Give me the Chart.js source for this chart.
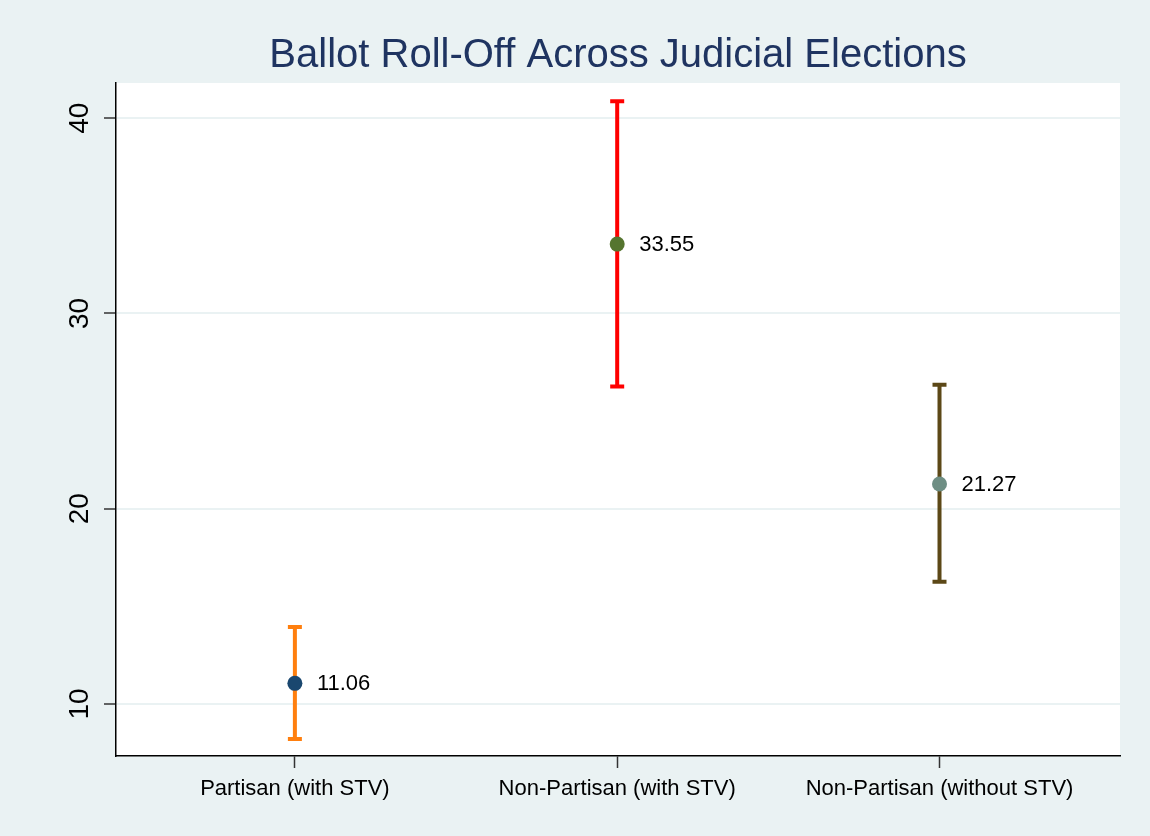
<!DOCTYPE html>
<html>
<head>
<meta charset="utf-8">
<script src="https://cdn.jsdelivr.net/npm/chart.js@4"></script>
<style>
  html, body { margin: 0; padding: 0; background: #eaf2f3; }
  #wrap { width: 1150px; height: 836px; }
</style>
</head>
<body>
<div id="wrap"><canvas id="chart" width="1150" height="836"></canvas></div>
<script>
const categories = ["Partisan (with STV)", "Non-Partisan (with STV)", "Non-Partisan (without STV)"];
const means = [11.06, 33.55, 21.27];
const lower = [8.21, 26.26, 16.26];
const upper = [13.94, 40.87, 26.35];
const yTicks = [10, 20, 30, 40];

const pointColors = ["#1a476f", "#55752f", "#6e8e84"];
const barColors = ["#ff7f0e", "#ff0000", "#5c4817"];
const FONT = "'Liberation Sans', Arial, sans-serif";

// background, title, rotated y labels, error bars, value labels
const stataPlugin = {
  id: "stata",
  beforeDraw(chart) {
    const ctx = chart.ctx;
    const a = chart.chartArea;
    ctx.save();
    ctx.fillStyle = "#eaf2f3";
    ctx.fillRect(0, 0, chart.width, chart.height);
    ctx.fillStyle = "#ffffff";
    ctx.fillRect(a.left, a.top, a.right - a.left, a.bottom - a.top);
    ctx.fillStyle = "#1f3461";
    ctx.font = "40px " + FONT;
    ctx.textAlign = "center";
    ctx.textBaseline = "middle";
    ctx.fillText("Ballot Roll-Off Across Judicial Elections", (a.left + a.right) / 2, 56);
    ctx.restore();
  },
  afterDraw(chart) {
    const ctx = chart.ctx;
    const y = chart.scales.y;
    ctx.save();
    ctx.fillStyle = "#000";
    ctx.font = "28px " + FONT;
    ctx.textAlign = "center";
    ctx.textBaseline = "middle";
    yTicks.forEach(v => {
      ctx.save();
      ctx.translate(80, y.getPixelForValue(v));
      ctx.rotate(-Math.PI / 2);
      ctx.fillText(String(v), 0, 0);
      ctx.restore();
    });
    ctx.restore();
  },
  beforeDatasetsDraw(chart) {
    const ctx = chart.ctx;
    const x = chart.scales.x, y = chart.scales.y;
    ctx.save();
    means.forEach((m, i) => {
      const px = x.getPixelForValue(i + 1);
      const top = y.getPixelForValue(upper[i]);
      const bot = y.getPixelForValue(lower[i]);
      ctx.strokeStyle = barColors[i];
      ctx.lineWidth = 4;
      ctx.beginPath();
      ctx.moveTo(px, top);
      ctx.lineTo(px, bot);
      ctx.moveTo(px - 7, top);
      ctx.lineTo(px + 7, top);
      ctx.moveTo(px - 7, bot);
      ctx.lineTo(px + 7, bot);
      ctx.stroke();
    });
    ctx.restore();
  },
  afterDatasetsDraw(chart) {
    const ctx = chart.ctx;
    const x = chart.scales.x, y = chart.scales.y;
    ctx.save();
    ctx.fillStyle = "#000";
    ctx.font = "22px " + FONT;
    ctx.textAlign = "left";
    ctx.textBaseline = "middle";
    means.forEach((m, i) => {
      ctx.fillText(m.toFixed(2), x.getPixelForValue(i + 1) + 22, y.getPixelForValue(m) + 1);
    });
    ctx.restore();
  }
};

new Chart(document.getElementById("chart"), {
  type: "scatter",
  data: {
    datasets: [{
      data: means.map((m, i) => ({ x: i + 1, y: m })),
      pointRadius: 7.5,
      pointHoverRadius: 7.5,
      pointBackgroundColor: pointColors,
      pointBorderWidth: 0
    }]
  },
  plugins: [stataPlugin],
  options: {
    responsive: false,
    animation: false,
    layout: { padding: { left: 0, top: 83, right: 30, bottom: 0 } },
    plugins: { legend: { display: false }, tooltip: { enabled: false } },
    scales: {
      x: {
        type: "linear",
        min: 0.445,
        max: 3.56,
        afterBuildTicks: s => { s.ticks = categories.map((c, i) => ({ value: i + 1 })); },
        afterFit: s => { s.height = 80; },
        ticks: {
          callback: (v) => categories[v - 1] || "",
          color: "#000",
          font: { family: FONT, size: 22 },
          padding: 8,
          maxRotation: 0
        },
        grid: { drawOnChartArea: false, tickColor: "#333", tickLength: 12, tickWidth: 1.5 },
        border: { color: "#000", width: 1.5 }
      },
      y: {
        min: 7.34,
        max: 41.8,
        afterBuildTicks: s => { s.ticks = yTicks.map(v => ({ value: v })); },
        afterFit: s => { s.width = 116; },
        ticks: { display: false },
        grid: { color: "#eaf2f3", lineWidth: 2, tickColor: "#333", tickLength: 12, tickWidth: 1.5 },
        border: { color: "#000", width: 1.5 }
      }
    }
  }
});
</script>
</body>
</html>
